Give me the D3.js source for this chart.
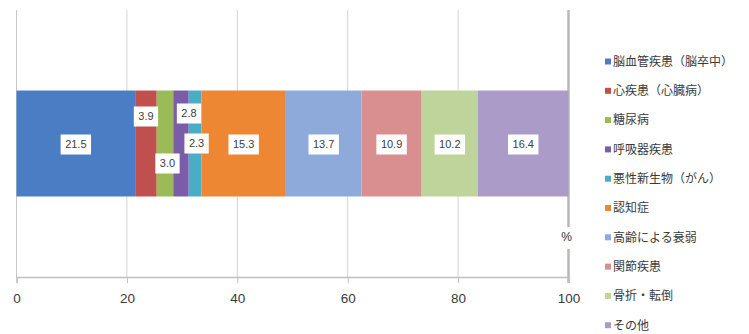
<!DOCTYPE html>
<html>
<head>
<meta charset="utf-8">
<script src="https://cdn.jsdelivr.net/npm/d3@7"></script>
<style>
  html, body { margin: 0; padding: 0; background: #fff; }
  svg { display: block; }
</style>
</head>
<body>
<svg id="chart" width="749" height="334"></svg>
<script>
// Main causes requiring long-term care (share, %)
const causes = [
  "脳血管疾患（脳卒中）", "心疾患（心臓病）", "糖尿病", "呼吸器疾患",
  "悪性新生物（がん）", "認知症", "高齢による衰弱", "関節疾患",
  "骨折・転倒", "その他"
];
const shares = [21.5, 3.9, 3.0, 2.8, 2.3, 15.3, 13.7, 10.9, 10.2, 16.4];
const colors = [
  "#4a7dc4", "#c0504d", "#9bbb59", "#7a5ca8", "#4bacc6",
  "#ee8734", "#8eaadb", "#d98f8f", "#bfd49a", "#aa9bc9"
];
const xTicks = [0, 20, 40, 60, 80, 100];
// label nudges (px) so the narrow segments' labels don't collide
const labelShift = [[0, 1], [0, -27], [2.5, 20], [8, -30], [1.5, 0], [0, 1], [0, 1], [0, 1], [0, 1], [0, 1]];

const svg = d3.select("#chart");
const plotTop = 10, plotBottom = 277;
const x = d3.scaleLinear().domain([0, 100]).range([16.5, 568.5]);
const y = d3.scaleBand().domain(["total"]).range([plotTop, plotBottom]).paddingInner(0).paddingOuter(0.76);

// vertical gridlines
svg.append("g").selectAll("line")
  .data(xTicks.filter(t => t > 0 && t < 100))
  .join("line")
  .attr("x1", d => x(d)).attr("x2", d => x(d))
  .attr("y1", plotTop).attr("y2", plotBottom)
  .attr("stroke", "#d4d4d4").attr("stroke-width", 1);

// left edge and the heavier 100% line
svg.append("line")
  .attr("x1", x(0)).attr("x2", x(0)).attr("y1", plotTop).attr("y2", plotBottom)
  .attr("stroke", "#c8c8c8");
svg.append("line")
  .attr("x1", x(100)).attr("x2", x(100)).attr("y1", plotTop).attr("y2", plotBottom + 6)
  .attr("stroke", "#b8b8b8").attr("stroke-width", 2.5);

// stacked segments
const stacked = [];
let acc = 0;
shares.forEach((v, i) => { stacked.push({ name: causes[i], v, x0: acc, x1: acc + v, i }); acc += v; });

svg.append("g").selectAll("rect")
  .data(stacked)
  .join("rect")
  .attr("x", d => x(d.x0))
  .attr("width", d => x(d.x1) - x(d.x0))
  .attr("y", y("total"))
  .attr("height", y.bandwidth())
  .attr("fill", d => colors[d.i]);

// x axis
const axis = svg.append("g")
  .attr("transform", `translate(0,${plotBottom})`)
  .call(d3.axisBottom(x).tickValues(xTicks).tickSize(6).tickPadding(10).tickFormat(d3.format("d")));
axis.select(".domain").attr("stroke", "#c0c0c0").attr("stroke-width", 1.5);
axis.selectAll(".tick line").attr("stroke", "#c0c0c0");
axis.selectAll(".tick text")
  .attr("font-family", "'Liberation Sans', Arial, sans-serif")
  .attr("font-size", 13.5).attr("fill", "#3a3a3a");

// unit label
const pctG = svg.append("g").attr("transform", `translate(${x(100) - 2},237)`);
pctG.append("rect").attr("x", -8).attr("y", -10).attr("width", 18).attr("height", 22).attr("fill", "#fff");
pctG.append("text").text("%")
  .attr("text-anchor", "middle").attr("dy", "0.35em")
  .attr("font-family", "'Liberation Sans', Arial, sans-serif")
  .attr("font-size", 12).attr("fill", "#333");

// value labels in white boxes
const cy = y("total") + y.bandwidth() / 2;
const lbl = svg.append("g").selectAll("g")
  .data(stacked)
  .join("g")
  .attr("transform", d => `translate(${(x(d.x0) + x(d.x1)) / 2 + labelShift[d.i][0]},${cy + labelShift[d.i][1]})`);
lbl.append("rect").attr("fill", "#fff");
lbl.append("text")
  .text(d => d3.format(".1f")(d.v))
  .attr("text-anchor", "middle").attr("dy", "0.35em")
  .attr("font-family", "'Liberation Sans', Arial, sans-serif")
  .attr("font-size", 11).attr("fill", "#404040");
lbl.each(function () {
  const g = d3.select(this);
  const w = g.select("text").node().getComputedTextLength() + 9;
  g.select("rect").attr("x", -w / 2).attr("y", -10).attr("width", w).attr("height", 20);
});

// legend
const legend = svg.append("g").selectAll("g")
  .data(causes)
  .join("g")
  .attr("transform", (d, i) => `translate(605,${61.5 + i * 29.3})`);
legend.append("rect")
  .attr("x", 0).attr("y", -3).attr("width", 6).attr("height", 6)
  .attr("fill", (d, i) => colors[i]);
legend.append("text")
  .text(d => d)
  .attr("x", 8).attr("dy", "0.36em")
  .attr("font-family", "'Noto Sans CJK JP', sans-serif")
  .attr("font-size", 12).attr("fill", "#3a3a3a");
</script>
</body>
</html>
